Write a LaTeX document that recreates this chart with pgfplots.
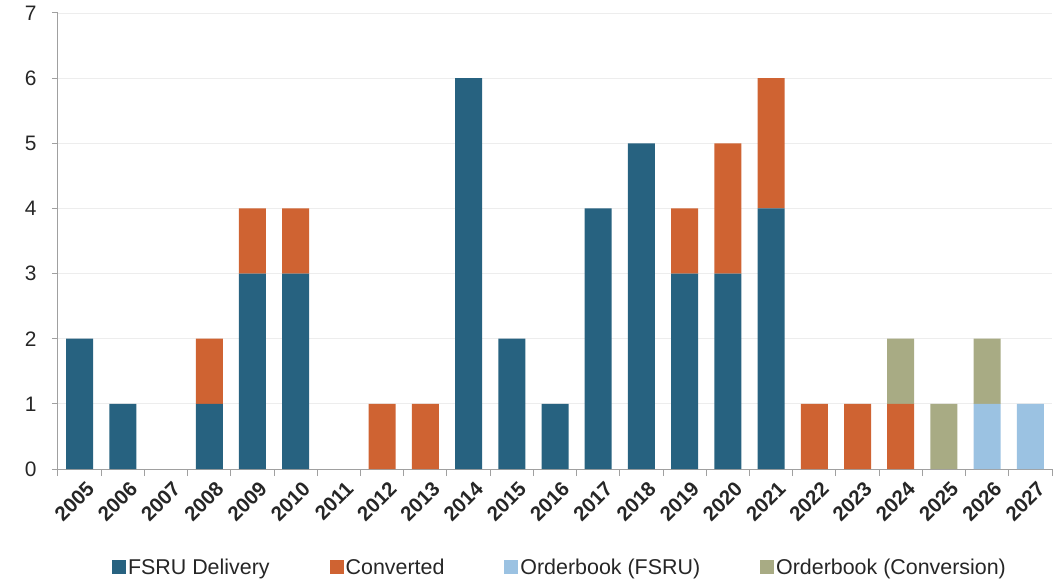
\documentclass[border=0pt]{standalone}
\usepackage{pgfplots}
\pgfplotsset{compat=1.18}
\usepackage{fontspec}
\setmainfont{Liberation Sans}
\definecolor{cF}{HTML}{276280}
\definecolor{cC}{HTML}{CF6332}
\definecolor{cOF}{HTML}{9BC2E2}
\definecolor{cOC}{HTML}{A8AB84}
\definecolor{txt}{HTML}{262626}
\definecolor{axl}{HTML}{A0A0A0}
\definecolor{grd}{HTML}{EDEDED}
\begin{document}
\begin{tikzpicture}
\begin{axis}[
  scale only axis,
  width=994bp, height=456bp,
  ybar stacked, bar width=27bp,
  xmin=-0.5, xmax=22.5, ymin=0, ymax=7,
  axis lines=left, axis line style={-, draw=axl, line width=1bp},
  xtick={0,...,22},
  xticklabels={2005,2006,2007,2008,2009,2010,2011,2012,2013,2014,2015,2016,2017,2018,2019,2020,2021,2022,2023,2024,2025,2026,2027},
  minor xtick={-0.5,0.5,...,22.5},
  major x tick style={draw=none},
  minor x tick style={draw=axl, line width=1bp},
  tick align=outside,
  major tick length=6bp, minor tick length=7bp,
  y tick style={draw=axl, line width=1bp},
  ytick={0,...,7},
  ymajorgrids, grid style={draw=grd, line width=0.8bp},
  /pgf/number format/assume math mode=true,
  tick label style={font=\fontsize{21}{24}\selectfont, text=txt},
  xticklabel style={rotate=45, anchor=north east, font=\fontsize{20.5}{24}\selectfont\bfseries, xshift=4bp, yshift=-4bp},
  yticklabel style={xshift=-12bp},
  legend columns=4,
  legend style={draw=none, at={(0.505,-0.215)}, anchor=center,
    font=\fontsize{21.5}{24}\selectfont, text=txt,
    /tikz/every even column/.append style={column sep=58bp}},
  legend image code/.code={\fill[#1] (0bp,-7bp) rectangle (14bp,7bp);},
  every axis plot/.append style={draw=none},
]
\addplot+[fill=cF] coordinates {(0,2)(1,1)(2,0)(3,1)(4,3)(5,3)(6,0)(7,0)(8,0)(9,6)(10,2)(11,1)(12,4)(13,5)(14,3)(15,3)(16,4)(17,0)(18,0)(19,0)(20,0)(21,0)(22,0)};
\addlegendentry{FSRU Delivery}
\addplot+[fill=cC] coordinates {(0,0)(1,0)(2,0)(3,1)(4,1)(5,1)(6,0)(7,1)(8,1)(9,0)(10,0)(11,0)(12,0)(13,0)(14,1)(15,2)(16,2)(17,1)(18,1)(19,1)(20,0)(21,0)(22,0)};
\addlegendentry{Converted}
\addplot+[fill=cOF] coordinates {(0,0)(1,0)(2,0)(3,0)(4,0)(5,0)(6,0)(7,0)(8,0)(9,0)(10,0)(11,0)(12,0)(13,0)(14,0)(15,0)(16,0)(17,0)(18,0)(19,0)(20,0)(21,1)(22,1)};
\addlegendentry{Orderbook (FSRU)}
\addplot+[fill=cOC] coordinates {(0,0)(1,0)(2,0)(3,0)(4,0)(5,0)(6,0)(7,0)(8,0)(9,0)(10,0)(11,0)(12,0)(13,0)(14,0)(15,0)(16,0)(17,0)(18,0)(19,1)(20,1)(21,1)(22,0)};
\addlegendentry{Orderbook (Conversion)}
\end{axis}
\pgfresetboundingbox
\path (current axis.south west) ++(-58bp,-111bp) rectangle ++(1058bp,580bp);
\end{tikzpicture}
\end{document}
